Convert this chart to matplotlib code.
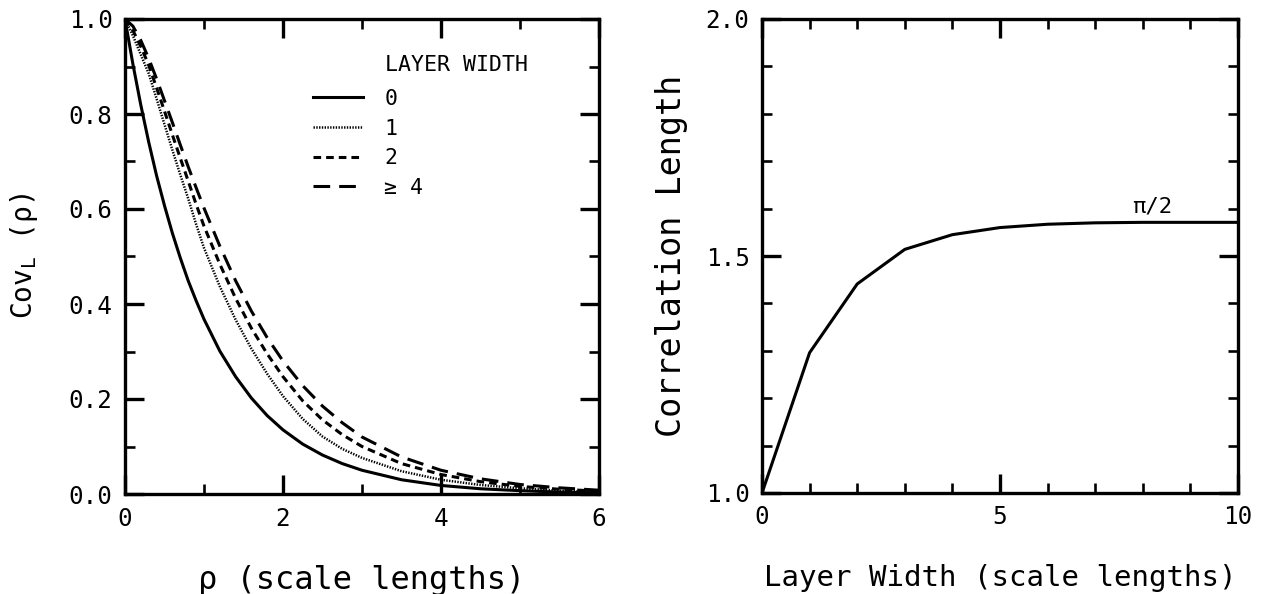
import matplotlib
matplotlib.use("Agg")
import matplotlib.pyplot as plt
from matplotlib.ticker import MultipleLocator, FormatStrFormatter

plt.rcParams['font.family'] = ['DejaVu Sans Mono']
plt.rcParams['mathtext.fontset'] = 'custom'
plt.rcParams['mathtext.rm'] = 'DejaVu Sans Mono'
plt.rcParams['mathtext.it'] = 'DejaVu Sans Mono:italic'
plt.rcParams['lines.scale_dashes'] = False

# separation (scale lengths) at which the curves were read
rho = [0.0, 0.1, 0.2, 0.3, 0.4, 0.5, 0.6, 0.7, 0.8, 0.9, 1.0, 1.2, 1.4, 1.6,
       1.8, 2.0, 2.25, 2.5, 2.75, 3.0, 3.5, 4.0, 4.5, 5.0, 5.5, 6.0]

# layer width 0
cov_w0 = [1.000, 0.905, 0.819, 0.741, 0.670, 0.607, 0.549, 0.497, 0.449, 0.407,
          0.368, 0.301, 0.247, 0.202, 0.165, 0.135, 0.105, 0.082, 0.064, 0.050,
          0.030, 0.018, 0.011, 0.007, 0.004, 0.0025]
# layer width 1
cov_w1 = [1.000, 0.965, 0.925, 0.885, 0.832, 0.778, 0.724, 0.672, 0.622, 0.568,
          0.518, 0.437, 0.367, 0.306, 0.253, 0.206, 0.158, 0.121, 0.095, 0.076,
          0.048, 0.030, 0.019, 0.012, 0.007, 0.004]
# layer width 2
cov_w2 = [1.000, 0.976, 0.942, 0.903, 0.855, 0.806, 0.756, 0.707, 0.659, 0.610,
          0.564, 0.484, 0.412, 0.349, 0.295, 0.247, 0.196, 0.156, 0.125, 0.100,
          0.064, 0.041, 0.026, 0.016, 0.010, 0.006]
# layer width >= 4
cov_w4 = [1.000, 0.985, 0.955, 0.917, 0.874, 0.828, 0.782, 0.735, 0.689, 0.645,
          0.602, 0.522, 0.449, 0.385, 0.329, 0.280, 0.228, 0.185, 0.150, 0.120,
          0.078, 0.050, 0.032, 0.020, 0.013, 0.008]

legend_labels = ['0', '1', '2', '\u2265 4']

layer_width = [0, 1, 2, 3, 4, 5, 6, 7, 8, 9, 10]
corr_length = [1.000, 1.296, 1.441, 1.514, 1.545, 1.560, 1.567, 1.570, 1.571,
               1.571, 1.571]


def style_axes(ax):
    for s in ax.spines.values():
        s.set_linewidth(2.4)
    ax.tick_params(which='both', direction='in', top=True, right=True,
                   labelsize=17.5, pad=9)
    ax.tick_params(which='major', length=14, width=2.4)
    ax.tick_params(which='minor', length=7, width=1.9)


fig = plt.figure(figsize=(12.63, 5.94), dpi=100)
ax1 = fig.add_axes([125 / 1263, 100 / 594, 474 / 1263, 475 / 594])
ax2 = fig.add_axes([762 / 1263, 101 / 594, 476 / 1263, 474 / 594])

# left panel: layer-averaged covariance
ax1.plot(rho, cov_w0, color='black', lw=2.2, ls='-', label=legend_labels[0])
ax1.plot(rho, cov_w1, color='black', lw=1.8, ls=(0, (1.0, 1.0)), label=legend_labels[1])
ax1.plot(rho, cov_w2, color='black', lw=2.2, ls=(0, (5.5, 3.6)), label=legend_labels[2])
ax1.plot(rho, cov_w4, color='black', lw=2.2, ls=(0, (12, 6.5)), label=legend_labels[3])

ax1.set_xlim(0, 6)
ax1.set_ylim(0, 1)
ax1.xaxis.set_major_locator(MultipleLocator(2))
ax1.xaxis.set_minor_locator(MultipleLocator(1))
ax1.yaxis.set_major_locator(MultipleLocator(0.2))
ax1.yaxis.set_minor_locator(MultipleLocator(0.1))
ax1.yaxis.set_major_formatter(FormatStrFormatter('%.1f'))
style_axes(ax1)

ax1.set_xlabel('\u03c1 (scale lengths)', fontsize=23)
ax1.set_ylabel('Cov$_\\mathrm{L}$ (\u03c1)', fontsize=20)
ax1.xaxis.set_label_coords(0.5, -0.15)
ax1.yaxis.set_label_coords(-0.18, 0.5)

ax1.legend(loc='upper left', bbox_to_anchor=(0.397, 0.853), frameon=False,
           fontsize=15.5, handlelength=2.3, handletextpad=1.0, labelspacing=0.45,
           borderpad=0, borderaxespad=0)
ax1.text(0.549, 0.903, 'LAYER WIDTH', transform=ax1.transAxes, fontsize=15.5,
         ha='left', va='center')

# right panel: correlation length vs layer width
ax2.plot(layer_width, corr_length, color='black', lw=2.2)
ax2.set_xlim(0, 10)
ax2.set_ylim(1, 2)
ax2.xaxis.set_major_locator(MultipleLocator(5))
ax2.xaxis.set_minor_locator(MultipleLocator(1))
ax2.yaxis.set_major_locator(MultipleLocator(0.5))
ax2.yaxis.set_minor_locator(MultipleLocator(0.1))
ax2.yaxis.set_major_formatter(FormatStrFormatter('%.1f'))
style_axes(ax2)
ax2.text(8.2, 1.583, '\u03c0/2', fontsize=16, ha='center', va='bottom')

ax2.set_xlabel('Layer Width (scale lengths)', fontsize=21)
ax2.set_ylabel('Correlation Length', fontsize=24)
ax2.xaxis.set_label_coords(0.5, -0.15)
ax2.yaxis.set_label_coords(-0.155, 0.5)

fig.savefig('out.png', dpi=100)
